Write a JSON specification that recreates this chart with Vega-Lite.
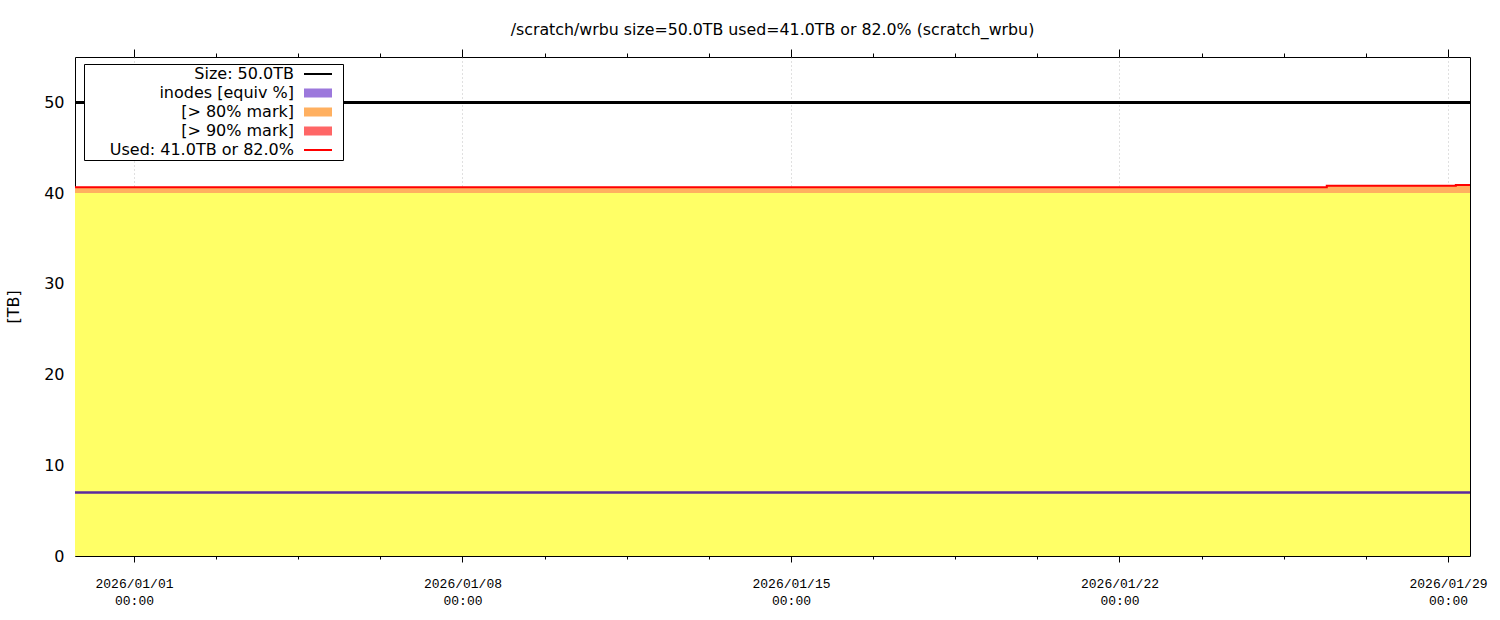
{
  "$schema": "https://vega.github.io/schema/vega-lite/v6.json",
  "width": 1395,
  "height": 499,
  "autosize": {"type": "none"},
  "padding": {"left": 75, "top": 57, "right": 30, "bottom": 64},
  "background": "white",
  "config": {"view": {"stroke": "black", "strokeWidth": 1}, "font": "DejaVu Sans"},
  "title": {"text": "/scratch/wrbu size=50.0TB used=41.0TB or 82.0% (scratch_wrbu)", "font": "DejaVu Sans", "fontSize": 15.8, "fontWeight": "normal", "color": "black", "anchor": "middle", "frame": "group", "offset": 10},
  "data": {"values": [
    {"t": "2025-12-30T12:00:00Z", "used": 40.65, "inodes": 7.0},
    {"t": "2025-12-31T00:00:00Z", "used": 40.65, "inodes": 7.0},
    {"t": "2026-01-01T00:00:00Z", "used": 40.65, "inodes": 7.0},
    {"t": "2026-01-02T00:00:00Z", "used": 40.65, "inodes": 7.0},
    {"t": "2026-01-03T00:00:00Z", "used": 40.65, "inodes": 7.0},
    {"t": "2026-01-04T00:00:00Z", "used": 40.65, "inodes": 7.0},
    {"t": "2026-01-05T00:00:00Z", "used": 40.65, "inodes": 7.0},
    {"t": "2026-01-06T00:00:00Z", "used": 40.65, "inodes": 7.0},
    {"t": "2026-01-07T00:00:00Z", "used": 40.65, "inodes": 7.0},
    {"t": "2026-01-08T00:00:00Z", "used": 40.65, "inodes": 7.0},
    {"t": "2026-01-09T00:00:00Z", "used": 40.65, "inodes": 7.0},
    {"t": "2026-01-10T00:00:00Z", "used": 40.65, "inodes": 7.0},
    {"t": "2026-01-11T00:00:00Z", "used": 40.65, "inodes": 7.0},
    {"t": "2026-01-12T00:00:00Z", "used": 40.65, "inodes": 7.0},
    {"t": "2026-01-13T00:00:00Z", "used": 40.65, "inodes": 7.0},
    {"t": "2026-01-14T00:00:00Z", "used": 40.65, "inodes": 7.0},
    {"t": "2026-01-15T00:00:00Z", "used": 40.65, "inodes": 7.0},
    {"t": "2026-01-16T00:00:00Z", "used": 40.65, "inodes": 7.0},
    {"t": "2026-01-17T00:00:00Z", "used": 40.65, "inodes": 7.0},
    {"t": "2026-01-18T00:00:00Z", "used": 40.65, "inodes": 7.0},
    {"t": "2026-01-19T00:00:00Z", "used": 40.65, "inodes": 7.0},
    {"t": "2026-01-20T00:00:00Z", "used": 40.65, "inodes": 7.0},
    {"t": "2026-01-21T00:00:00Z", "used": 40.65, "inodes": 7.0},
    {"t": "2026-01-22T00:00:00Z", "used": 40.65, "inodes": 7.0},
    {"t": "2026-01-23T00:00:00Z", "used": 40.65, "inodes": 7.0},
    {"t": "2026-01-24T00:00:00Z", "used": 40.65, "inodes": 7.0},
    {"t": "2026-01-25T00:00:00Z", "used": 40.65, "inodes": 7.0},
    {"t": "2026-01-26T00:00:00Z", "used": 40.65, "inodes": 7.0},
    {"t": "2026-01-26T10:00:00Z", "used": 40.8, "inodes": 7.0},
    {"t": "2026-01-27T00:00:00Z", "used": 40.8, "inodes": 7.0},
    {"t": "2026-01-28T00:00:00Z", "used": 40.8, "inodes": 7.0},
    {"t": "2026-01-29T00:00:00Z", "used": 40.8, "inodes": 7.0},
    {"t": "2026-01-29T04:00:00Z", "used": 40.9, "inodes": 7.0},
    {"t": "2026-01-29T12:00:00Z", "used": 40.9, "inodes": 7.0}
  ]},
  "resolve": {"axis": {"x": "independent"}},
  "layer": [
    {
      "mark": {"type": "area", "color": "#ffff66", "interpolate": "step-after", "clip": true},
      "encoding": {
        "x": {"field": "t", "type": "temporal",
          "scale": {"type": "utc", "domain": [1767117000000, 1769685300000]},
          "axis": {"orient": "bottom", "title": null,
            "values": [1767225600000, 1767830400000, 1768435200000, 1769040000000, 1769644800000],
            "labelExpr": "[utcFormat(datum.value, '%Y/%m/%d'), utcFormat(datum.value, '%H:%M')]",
            "labelFont": "Liberation Mono", "labelFontSize": 13, "labelLineHeight": 17, "labelColor": "black",
            "labelPadding": 15, "labelFlush": false, "labelOverlap": false,
            "tickSize": 6, "tickColor": "black", "domain": false,
            "grid": true, "gridColor": "#c0c0c0", "gridDash": [1, 3], "gridWidth": 1}},
        "y": {"datum": 40, "type": "quantitative",
          "scale": {"domain": [0, 55], "nice": false, "zero": true},
          "axis": {"title": "[TB]", "values": [0, 10, 20, 30, 40, 50], "ticks": false, "domain": false, "grid": false,
            "labelFont": "DejaVu Sans", "labelFontSize": 16, "labelColor": "black", "labelPadding": 11,
            "titleFont": "DejaVu Sans", "titleFontSize": 16, "titleFontWeight": "normal", "titleColor": "black", "titlePadding": 22}},
        "y2": {"datum": 0}
      }
    },
    {
      "mark": {"type": "area", "interpolate": "step-after", "clip": true, "opacity": 1},
      "encoding": {
        "x": {"field": "t", "type": "temporal",
          "scale": {"type": "utc", "domain": [1767117000000, 1769685300000]},
          "axis": {"orient": "bottom", "title": null, "labels": false, "domain": false, "grid": false,
            "values": [1767376800000, 1767528000000, 1767679200000, 1767981600000, 1768132800000, 1768284000000, 1768586400000, 1768737600000, 1768888800000, 1769191200000, 1769342400000, 1769493600000],
            "tickSize": 3, "tickColor": "black"}},
        "y": {"field": "used", "type": "quantitative"},
        "y2": {"datum": 40},
        "color": {"datum": "[> 80% mark]",
          "scale": {"domain": ["Size: 50.0TB", "inodes [equiv %]", "[> 80% mark]", "[> 90% mark]", "Used: 41.0TB or 82.0%"],
            "range": ["#000000", "#9c78dc", "#ffb060", "#ff6666", "#ff0000"]},
          "legend": {"title": null, "orient": "none", "legendX": 9, "legendY": 7, "direction": "vertical",
            "strokeColor": "black", "fillColor": "white", "padding": 2, "cornerRadius": 0,
            "labelFont": "DejaVu Sans", "labelFontSize": 16, "labelColor": "black", "labelAlign": "right", "labelBaseline": "middle",
            "labelOffset": -32, "labelLimit": 400, "symbolOffset": 224, "symbolSize": 256,
            "symbolType": "M-1.75,-0.5625H1.75V0.5625H-1.75Z M2.8,0H2.801", "rowPadding": 3, "symbolStrokeWidth": 0, "symbolOpacity": 1,
            "encode": {"symbols": {"update": {
              "shape": {"signal": "(datum.value === 'Size: 50.0TB' || datum.value === 'Used: 41.0TB or 82.0%') ? 'M-1.75,-0.125H1.75V0.125H-1.75Z M2.8,0H2.801' : 'M-1.75,-0.5625H1.75V0.5625H-1.75Z M2.8,0H2.801'"},
              "opacity": {"value": 1}
            }}}}
        }
      }
    },
    {
      "mark": {"type": "line", "strokeWidth": 2.5, "interpolate": "step-after", "clip": true, "color": "#5b2a9e"},
      "encoding": {
        "x": {"field": "t", "type": "temporal",
          "scale": {"type": "utc", "domain": [1767117000000, 1769685300000]},
          "axis": {"orient": "top", "title": null, "labels": false, "domain": false, "grid": false,
            "values": [1767225600000, 1767830400000, 1768435200000, 1769040000000, 1769644800000],
            "tickSize": 8, "tickColor": "black"}},
        "y": {"field": "inodes", "type": "quantitative"}
      }
    },
    {
      "mark": {"type": "rule", "strokeWidth": 2},
      "encoding": {
        "y": {"datum": 50, "type": "quantitative"},
        "color": {"datum": "Size: 50.0TB"}
      }
    },
    {
      "mark": {"type": "line", "strokeWidth": 2, "interpolate": "step-after", "clip": true},
      "encoding": {
        "x": {"field": "t", "type": "temporal",
          "scale": {"type": "utc", "domain": [1767117000000, 1769685300000]},
          "axis": {"orient": "top", "title": null, "labels": false, "domain": false, "grid": false,
            "values": [1767376800000, 1767528000000, 1767679200000, 1767981600000, 1768132800000, 1768284000000, 1768586400000, 1768737600000, 1768888800000, 1769191200000, 1769342400000, 1769493600000],
            "tickSize": 4, "tickColor": "black"}},
        "y": {"field": "used", "type": "quantitative"},
        "color": {"datum": "Used: 41.0TB or 82.0%"}
      }
    }
  ]
}
